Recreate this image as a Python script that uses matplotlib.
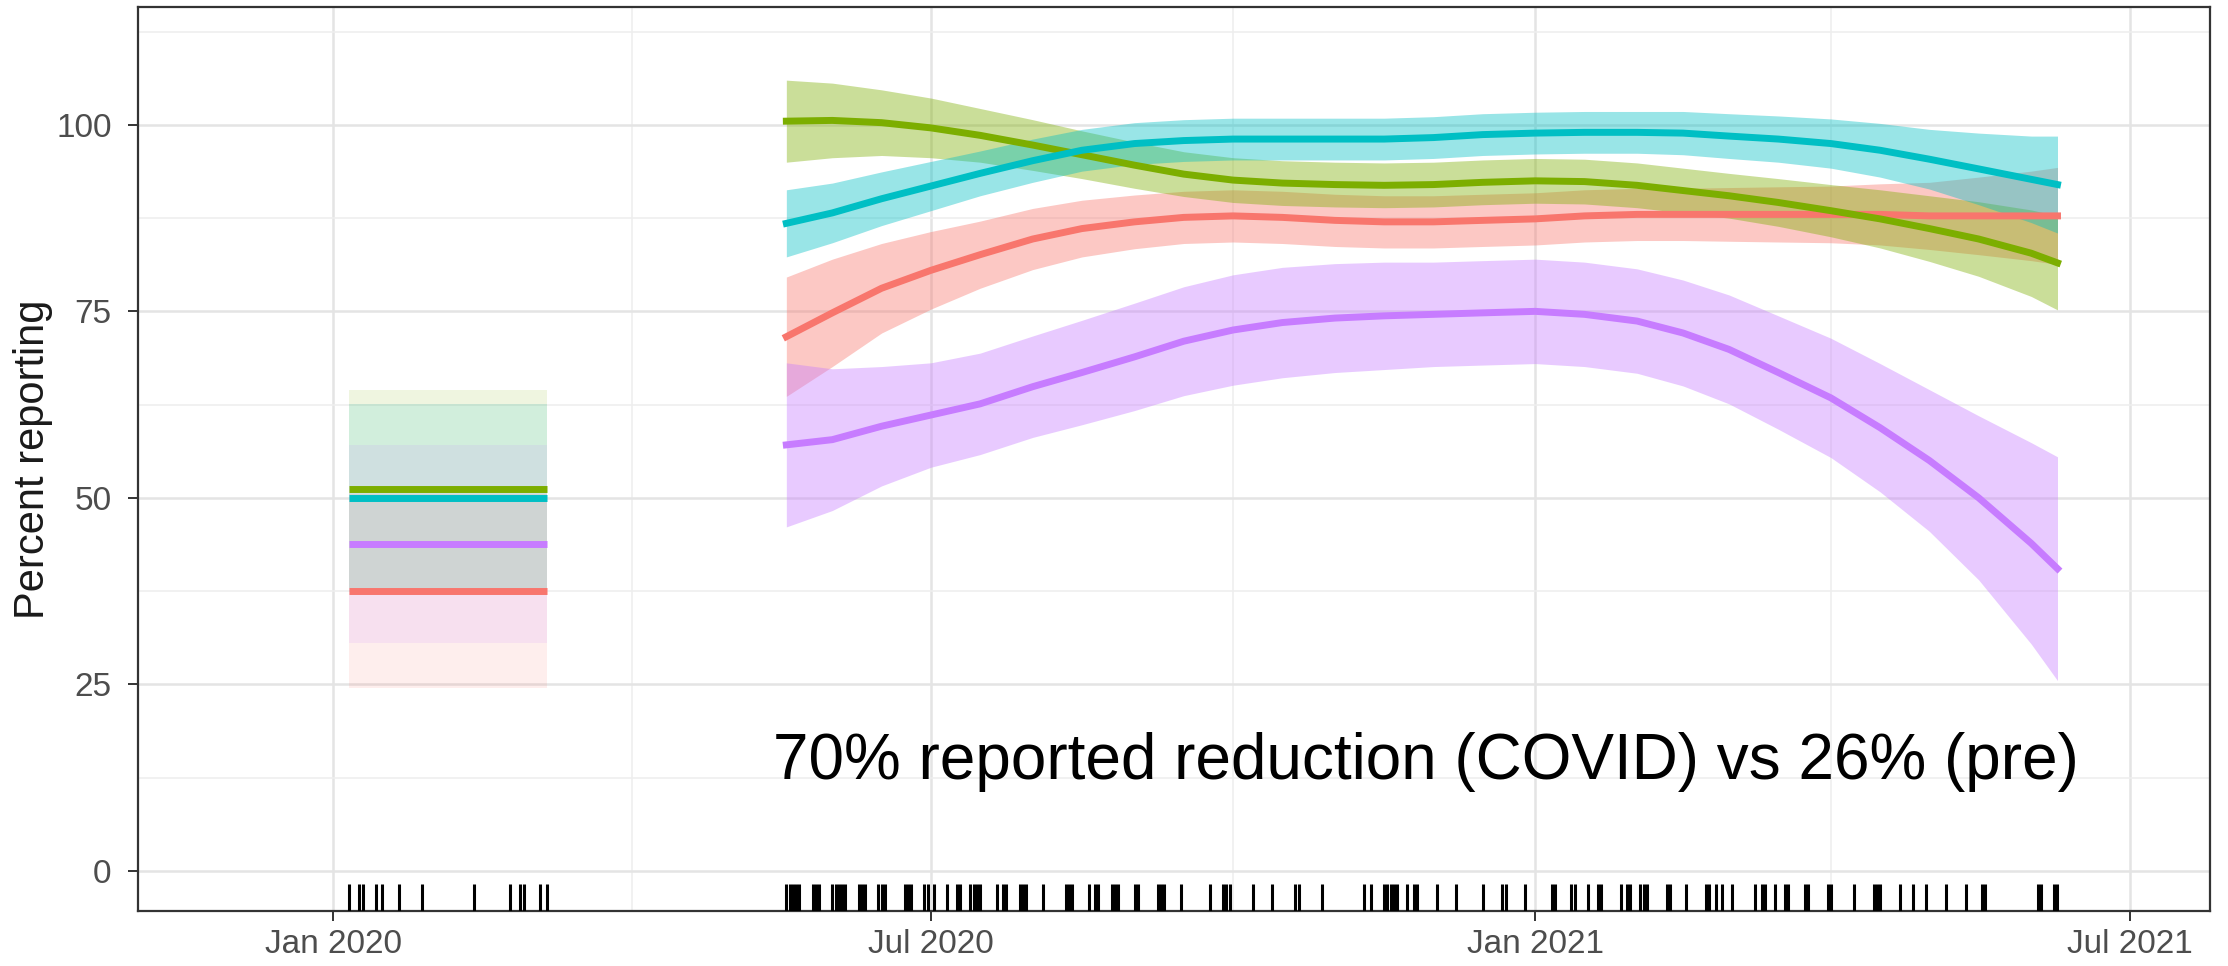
import matplotlib
matplotlib.use("Agg")
import matplotlib.pyplot as plt
import pandas as pd

plt.rcParams['font.family'] = ['Liberation Sans', 'DejaVu Sans']

# loess fits over the covid period (one row per half month)
smooth_dates = ["2020-05-18", "2020-06-01", "2020-06-16", "2020-07-01", "2020-07-16",
                "2020-08-01", "2020-08-16", "2020-09-01", "2020-09-16", "2020-10-01",
                "2020-10-16", "2020-11-01", "2020-11-16", "2020-12-01", "2020-12-16",
                "2021-01-01", "2021-01-16", "2021-02-01", "2021-02-15", "2021-03-01",
                "2021-03-16", "2021-04-01", "2021-04-16", "2021-05-01", "2021-05-16",
                "2021-06-01", "2021-06-09"]

red_fit = [71.6, 74.8, 78.1, 80.5, 82.6, 84.7, 86.1, 87.0, 87.6, 87.8, 87.6, 87.2, 87.0, 87.0,
           87.2, 87.4, 87.8, 88.0, 88.0, 88.0, 88.0, 88.0, 88.0, 87.8, 87.8, 87.8, 87.8]
red_ci = [8.0, 7.2, 6.0, 5.2, 4.5, 4.1, 3.8, 3.6, 3.5, 3.5, 3.5, 3.5, 3.5, 3.5,
          3.5, 3.5, 3.5, 3.5, 3.5, 3.6, 3.7, 3.8, 4.1, 4.5, 5.2, 6.0, 6.5]

green_fit = [100.5, 100.6, 100.3, 99.6, 98.6, 97.3, 96.0, 94.6, 93.4, 92.6, 92.2, 92.0, 91.9, 92.0,
             92.3, 92.5, 92.4, 91.9, 91.2, 90.5, 89.6, 88.5, 87.4, 86.1, 84.7, 82.8, 81.5]
green_ci = [5.5, 5.0, 4.4, 4.0, 3.6, 3.4, 3.2, 3.1, 3.0, 3.0, 3.0, 3.0, 3.0, 3.0,
            3.0, 3.0, 3.0, 3.0, 3.0, 3.0, 3.2, 3.5, 3.9, 4.4, 5.0, 5.8, 6.3]

cyan_fit = [86.8, 88.2, 90.1, 91.8, 93.5, 95.2, 96.6, 97.5, 97.9, 98.1, 98.1, 98.1, 98.1, 98.3,
            98.7, 98.9, 99.0, 99.0, 98.9, 98.5, 98.1, 97.5, 96.6, 95.4, 94.1, 92.7, 92.0]
cyan_ci = [4.5, 4.0, 3.6, 3.3, 3.0, 2.9, 2.8, 2.8, 2.8, 2.8, 2.8, 2.8, 2.8, 2.8,
           2.8, 2.8, 2.8, 2.8, 2.9, 3.0, 3.1, 3.3, 3.6, 4.0, 4.8, 5.8, 6.5]

purple_fit = [57.1, 57.8, 59.6, 61.1, 62.6, 64.9, 66.8, 68.9, 71.0, 72.5, 73.5, 74.1, 74.4, 74.6,
              74.8, 75.0, 74.6, 73.7, 72.1, 69.9, 66.8, 63.4, 59.4, 55.0, 50.0, 43.9, 40.5]
purple_ci = [11.0, 9.5, 8.0, 7.0, 6.8, 6.8, 7.0, 7.2, 7.3, 7.4, 7.4, 7.3, 7.2, 7.0,
             7.0, 7.0, 7.0, 7.0, 7.1, 7.3, 7.6, 8.0, 8.6, 9.5, 11.0, 13.5, 15.0]

# pre-covid means (red, green, cyan, purple)
pre_fit = [37.5, 51.2, 50.0, 43.8]
pre_ci = [13.0, 13.3, 12.6, 13.3]

colors = ["#F8766D", "#7CAE00", "#00BFC4", "#C77CFF"]

# survey dates
rug_pre = ["2020-01-06", "2020-01-09", "2020-01-10", "2020-01-14", "2020-01-16", "2020-01-21",
           "2020-01-28", "2020-02-13", "2020-02-24", "2020-02-27", "2020-02-28", "2020-03-04",
           "2020-03-06"]
rug_covid = ["2020-05-18", "2020-05-19", "2020-05-20", "2020-05-21", "2020-05-22",
             "2020-05-26", "2020-05-27", "2020-05-28", "2020-06-01", "2020-06-02",
             "2020-06-03", "2020-06-04", "2020-06-05", "2020-06-09", "2020-06-10",
             "2020-06-11", "2020-06-15", "2020-06-16", "2020-06-17", "2020-06-23",
             "2020-06-24", "2020-06-25", "2020-06-29", "2020-06-30", "2020-07-02",
             "2020-07-06", "2020-07-09", "2020-07-10", "2020-07-13", "2020-07-14",
             "2020-07-15", "2020-07-16", "2020-07-21", "2020-07-23", "2020-07-24",
             "2020-07-28", "2020-07-29", "2020-07-30", "2020-08-04", "2020-08-11",
             "2020-08-12", "2020-08-13", "2020-08-18", "2020-08-20", "2020-08-21",
             "2020-08-25", "2020-08-26", "2020-08-27", "2020-09-01", "2020-09-02",
             "2020-09-08", "2020-09-09", "2020-09-10", "2020-09-15", "2020-09-24",
             "2020-09-28", "2020-09-29", "2020-09-30", "2020-10-07", "2020-10-13",
             "2020-10-20", "2020-10-21", "2020-10-28", "2020-11-10", "2020-11-12",
             "2020-11-16", "2020-11-17", "2020-11-18", "2020-11-19", "2020-11-20",
             "2020-11-23", "2020-11-25", "2020-11-26", "2020-12-02", "2020-12-08",
             "2020-12-16", "2020-12-22", "2020-12-23", "2020-12-29", "2021-01-06",
             "2021-01-07", "2021-01-12", "2021-01-13", "2021-01-17", "2021-01-20",
             "2021-01-21", "2021-01-27", "2021-01-29", "2021-01-30", "2021-02-02",
             "2021-02-03", "2021-02-04", "2021-02-10", "2021-02-11", "2021-02-16",
             "2021-02-22", "2021-02-23", "2021-02-25", "2021-02-27", "2021-03-02",
             "2021-03-09", "2021-03-11", "2021-03-12", "2021-03-15", "2021-03-18",
             "2021-03-19", "2021-03-24", "2021-03-25", "2021-03-31", "2021-04-01",
             "2021-04-08", "2021-04-14", "2021-04-15", "2021-04-16", "2021-04-22",
             "2021-04-26", "2021-04-30", "2021-05-06", "2021-05-12", "2021-05-17",
             "2021-05-18", "2021-06-03", "2021-06-04", "2021-06-08", "2021-06-09"]

tick_dates = ["2020-01-01", "2020-07-01", "2021-01-01", "2021-07-01"]
tick_labels = ["Jan 2020", "Jul 2020", "Jan 2021", "Jul 2021"]
minor_dates = ["2020-04-01", "2020-10-01", "2021-04-01"]

x = pd.to_datetime(smooth_dates)
pre_x = pd.to_datetime(rug_pre)
pre_span = [pre_x.min(), pre_x.max()]

fig = plt.figure(figsize=(22.28, 9.66), dpi=100)
ax = fig.add_axes([0.0619, 0.0569, 0.9300, 0.9358])

# pre period: flat mean with wide ribbon
for m, ci, c in zip(pre_fit, pre_ci, colors):
    ax.fill_between(pre_span, [m - ci] * 2, [m + ci] * 2, color=c, alpha=0.12, lw=0, zorder=2)
for m, c in zip(pre_fit, colors):
    ax.plot(pre_span, [m, m], color=c, lw=5, solid_capstyle='butt', zorder=3)

fits = [(red_fit, red_ci), (green_fit, green_ci), (cyan_fit, cyan_ci), (purple_fit, purple_ci)]
for (fit, ci), c in zip(fits, colors):
    lo = [f - e for f, e in zip(fit, ci)]
    hi = [f + e for f, e in zip(fit, ci)]
    ax.fill_between(x, lo, hi, color=c, alpha=0.4, lw=0, zorder=2)
for (fit, ci), c in zip(fits, colors):
    ax.plot(x, fit, color=c, lw=5, zorder=3)

# rug along the bottom
rug = pd.to_datetime(rug_pre + rug_covid)
ax.vlines(rug, 0, 0.03, transform=ax.get_xaxis_transform(), color='black', lw=2.2, zorder=4)

ax.text(pd.Timestamp("2020-05-14"), 12.3,
        "70% reported reduction (COVID) vs 26% (pre)", fontsize=46, color='black',
        ha='left', va='baseline', zorder=5)

ax.set_xlim(pd.Timestamp("2019-11-02 14:00"), pd.Timestamp("2021-07-25 10:00"))
ax.set_ylim(-5.4, 115.8)

ax.set_xticks(pd.to_datetime(tick_dates))
ax.set_xticklabels(tick_labels)
ax.set_xticks(pd.to_datetime(minor_dates), minor=True)
ax.set_yticks([0, 25, 50, 75, 100])
ax.set_yticks([12.5, 37.5, 62.5, 87.5, 112.5], minor=True)

ax.grid(which='major', color='#E4E4E4', lw=1.8, zorder=0)
ax.grid(which='minor', color='#EEEEEE', lw=1.1, zorder=0)
ax.set_axisbelow(True)

ax.tick_params(which='major', length=7, width=1.4, color='#333333',
               labelsize=24, labelcolor='#4D4D4D')
ax.tick_params(axis='x', which='major', pad=6)
ax.tick_params(axis='y', which='major', pad=12)
ax.tick_params(which='minor', length=0)
for s in ax.spines.values():
    s.set_color('#333333')
    s.set_linewidth(1.6)

ax.set_ylabel("Percent reporting", fontsize=30, color='#1A1A1A')
ax.yaxis.set_label_coords(-0.041, 0.5)

fig.savefig("out.png", dpi=100)
